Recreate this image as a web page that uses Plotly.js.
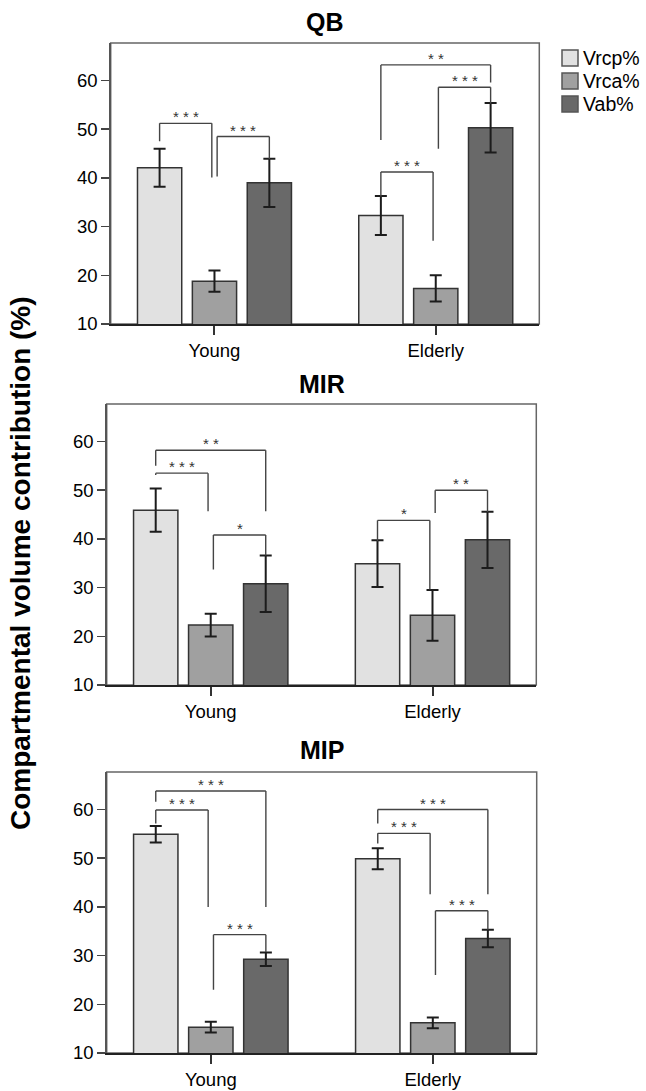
<!DOCTYPE html>
<html><head><meta charset="utf-8">
<script src="https://cdn.plot.ly/plotly-3.0.1.min.js"></script>
<style>html,body{margin:0;padding:0;background:#fff}#chart{width:646px;height:1091px}</style>
</head><body><div id="chart"></div>
<script>
// ---------- data ----------
const groups = ['Young', 'Elderly'];
const seriesNames = ['Vrcp%', 'Vrca%', 'Vab%'];
const panelTitles = ['QB', 'MIR', 'MIP'];
const yTicks = [10, 20, 30, 40, 50, 60];
const yAxisTitle = 'Compartmental volume contribution (%)';

// QB means / error half-widths  [Young, Elderly]
const qbVrcp = [42.1, 32.3];
const qbVrca = [18.8, 17.3];
const qbVab  = [39.0, 50.3];
const qbVrcpErr = [3.9, 4.0];
const qbVrcaErr = [2.2, 2.7];
const qbVabErr  = [4.95, 5.1];
// MIR
const mirVrcp = [45.9, 34.9];
const mirVrca = [22.3, 24.3];
const mirVab  = [30.8, 39.8];
const mirVrcpErr = [4.45, 4.8];
const mirVrcaErr = [2.35, 5.2];
const mirVabErr  = [5.8, 5.75];
// MIP
const mipVrcp = [54.9, 49.9];
const mipVrca = [15.3, 16.2];
const mipVab  = [29.25, 33.5];
const mipVrcpErr = [1.7, 2.15];
const mipVrcaErr = [1.1, 1.1];
const mipVabErr  = [1.4, 1.8];

// significance brackets: [group, fromSeries, toSeries, bracketY, leftLegEndY, rightLegEndY, label]
const qbSig = [
  [0, 0, 1, 51.2, 47.5, 40.1, '***'],
  [0, 1, 2, 48.5, 40.3, 43.9, '***'],
  [1, 0, 1, 41.2, 36.2, 27.1, '***'],
  [1, 1, 2, 58.6, 46.0, 55.3, '***'],
  [1, 0, 2, 63.2, 47.8, 59.6, '**']
];
const mirSig = [
  [0, 0, 2, 58.2, 55.0, 45.7, '**'],
  [0, 0, 1, 53.5, 53.1, 45.7, '***'],
  [0, 1, 2, 40.8, 33.7, 36.6, '*'],
  [1, 0, 1, 43.8, 39.5, 29.6, '*'],
  [1, 1, 2, 50.0, 45.3, 45.5, '**']
];
const mipSig = [
  [0, 0, 2, 63.8, 61.6, 40.0, '***'],
  [0, 0, 1, 59.9, 57.1, 40.0, '***'],
  [0, 1, 2, 34.3, 23.0, 30.75, '***'],
  [1, 0, 2, 60.0, 57.1, 42.6, '***'],
  [1, 0, 1, 55.1, 53.0, 42.6, '***'],
  [1, 1, 2, 39.2, 26.0, 35.3, '***']
];

// ---------- styling / layout ----------
const FONT = 'Liberation Sans, Arial, Helvetica, sans-serif';
const seriesColors = ['#e1e1e1', '#a0a0a0', '#696969'];
const W = 646, H = 1091, ML = 106, MR = 106;
const PW = W - ML - MR;
const px2x = p => (p - ML) / PW;
const py2y = p => 1 - p / H;

const panels = [
  {vals: [qbVrcp, qbVrca, qbVab], errs: [qbVrcpErr, qbVrcaErr, qbVabErr], sig: qbSig,
   xpx: [110.7, 539.3], ypx: [43, 324], titleY: 22},
  {vals: [mirVrcp, mirVrca, mirVab], errs: [mirVrcpErr, mirVrcaErr, mirVabErr], sig: mirSig,
   xpx: [106.7, 536.3], ypx: [404, 685], titleY: 384},
  {vals: [mipVrcp, mipVrca, mipVab], errs: [mipVrcpErr, mipVrcaErr, mipVabErr], sig: mipSig,
   xpx: [106.7, 536.7], ypx: [772, 1053], titleY: 750}
];

const BARGAP = 0.256, BARGROUPGAP = 0.194;
const slot = (1 - BARGAP) / 3;
const gx = groups.map((g, i) => i);

const traces = [];
const shapes = [];
const annotations = [];
const layout = {
  width: W, height: H,
  margin: {l: ML, r: MR, t: 0, b: 0},
  paper_bgcolor: '#fff', plot_bgcolor: '#fff',
  barmode: 'group', bargap: BARGAP, bargroupgap: BARGROUPGAP,
  showlegend: false,
  font: {family: FONT, color: '#000'}
};

panels.forEach((p, k) => {
  const sfx = k === 0 ? '' : String(k + 1);
  const xa = 'x' + sfx, ya = 'y' + sfx;
  seriesNames.forEach((name, s) => {
    traces.push({
      type: 'bar', name: name, x: gx, y: p.vals[s], xaxis: xa, yaxis: ya,
      marker: {color: seriesColors[s], line: {color: '#333', width: 1.5}},
      error_y: {type: 'data', array: p.errs[s], visible: true, color: '#1c1c1c', thickness: 2, width: 6},
      hoverinfo: 'skip'
    });
  });
  layout['xaxis' + sfx] = {
    domain: [px2x(p.xpx[0]), px2x(p.xpx[1])], anchor: ya,
    range: [-0.469, 1.468], tickvals: gx, ticktext: groups,
    showline: true, linecolor: '#222', linewidth: 2,
    ticks: 'outside', ticklen: 9, tickwidth: 2, tickcolor: '#333',
    tickfont: {size: 18.5, family: FONT, color: '#000'},
    showgrid: false, zeroline: false, fixedrange: true
  };
  layout['yaxis' + sfx] = {
    domain: [py2y(p.ypx[1]), py2y(p.ypx[0])], anchor: xa,
    range: [10, 67.7], tickvals: yTicks,
    showline: true, linecolor: '#555', linewidth: 1.5,
    ticks: 'outside', ticklen: 8, tickwidth: 1.5, tickcolor: '#444',
    tickfont: {size: 18.5, family: FONT, color: '#000'},
    showgrid: false, zeroline: false, fixedrange: true
  };
  // frame
  shapes.push({type: 'rect', xref: xa + ' domain', yref: ya + ' domain', x0: 0, x1: 1, y0: 0, y1: 1,
    line: {color: '#666', width: 1.5}, layer: 'below'});
  // title
  annotations.push({text: '<b>' + panelTitles[k] + '</b>', xref: 'paper', yref: 'paper',
    x: px2x((p.xpx[0] + p.xpx[1]) / 2), y: py2y(p.titleY), xanchor: 'center', yanchor: 'middle',
    showarrow: false, font: {size: 25, family: FONT, color: '#000'}});
  // significance brackets
  p.sig.forEach(b => {
    const [g, s0, s1, yb, yl, yr, lab] = b;
    let x0 = g + (s0 - 1) * slot, x1 = g + (s1 - 1) * slot;
    if (s0 === 1) x0 += 0.012;
    if (s1 === 1) x1 -= 0.012;
    const ln = {color: '#444', width: 1.4};
    shapes.push({type: 'line', xref: xa, yref: ya, x0: x0, x1: x0, y0: yl, y1: yb, line: ln});
    shapes.push({type: 'line', xref: xa, yref: ya, x0: x0, x1: x1, y0: yb, y1: yb, line: ln});
    shapes.push({type: 'line', xref: xa, yref: ya, x0: x1, x1: x1, y0: yb, y1: yr, line: ln});
    annotations.push({text: lab.split('').join(' '), xref: xa, yref: ya, x: (x0 + x1) / 2, y: yb,
      xanchor: 'center', yanchor: 'bottom', yshift: -4, showarrow: false,
      font: {size: 15, family: FONT, color: '#333'}});
  });
});

// legend (drawn manually next to the QB panel)
seriesNames.forEach((name, s) => {
  const cy = 58 + 23 * s;
  shapes.push({type: 'rect', xref: 'paper', yref: 'paper',
    x0: px2x(562), x1: px2x(578), y0: py2y(cy + 8), y1: py2y(cy - 8),
    fillcolor: seriesColors[s], line: {color: '#555', width: 1.5}});
  annotations.push({text: name, xref: 'paper', yref: 'paper', x: px2x(581), y: py2y(cy),
    xanchor: 'left', yanchor: 'middle', showarrow: false,
    font: {size: 19.5, family: FONT, color: '#000'}});
});

// shared y-axis title
annotations.push({text: '<b>' + yAxisTitle + '</b>', xref: 'paper', yref: 'paper',
  x: px2x(20), y: py2y(563), xanchor: 'center', yanchor: 'middle', textangle: -90,
  showarrow: false, font: {size: 28, family: FONT, color: '#000'}});

layout.shapes = shapes;
layout.annotations = annotations;

Plotly.newPlot('chart', traces, layout, {displayModeBar: false, staticPlot: true});
</script>
</body></html>
